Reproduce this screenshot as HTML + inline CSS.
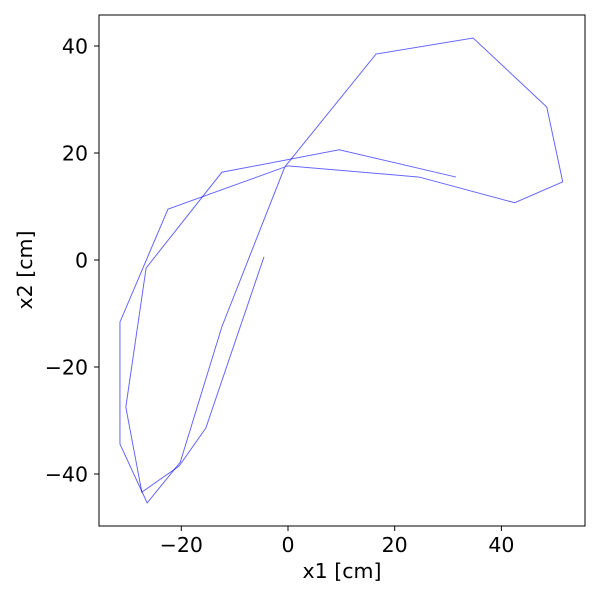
<!DOCTYPE html>
<html><head><meta charset="utf-8"><style>
body{margin:0;background:#fff}
svg text{font-family:"DejaVu Sans","Liberation Sans",sans-serif;font-size:20.5px;fill:#000}
</style></head><body>
<svg id="chart" width="600" height="600">
<rect x="99" y="15" width="486" height="511" fill="#fff" stroke="#000" stroke-width="1"/>
<g id="ticks"></g>
<g id="lines"></g>
<text x="342" y="578" text-anchor="middle">x1 [cm]</text>
<text transform="translate(32,270) rotate(-90)" text-anchor="middle">x2 [cm]</text>
</svg>
<script>
const xTicks=[-20,0,20,40];
const yTicks=[-40,-20,0,20,40];
const pathAx=[-4.5,-15.4,-20.4,-27.4,-30.4,-26.6,-12.4,9.6,31.5];
const pathAy=[0.6,-31.4,-38.5,-43.4,-27.5,-1.5,16.4,20.6,15.5];
const pathBx=[-31.5,-22.5,0,24.6,42.5,51.5,48.5,34.7,16.5,-0.6,-12.4,-20.2,-26.4,-31.5,-31.5];
const pathBy=[-11.6,9.5,17.6,15.5,10.7,14.6,28.6,41.5,38.5,17.4,-12.5,-37.8,-45.4,-34.4,-11.6];
const sx=v=>288+v*5.335;
const sy=v=>260-v*5.35;
const NS="http://www.w3.org/2000/svg";
const tg=document.getElementById('ticks');
xTicks.forEach(t=>{
  const l=document.createElementNS(NS,'line');
  l.setAttribute('x1',sx(t));l.setAttribute('x2',sx(t));l.setAttribute('y1',526);l.setAttribute('y2',531);l.setAttribute('stroke','#000');
  
  
  tg.appendChild(l);
  const tx=document.createElementNS(NS,'text');
  tx.setAttribute('x',sx(t));tx.setAttribute('y',552);tx.setAttribute('text-anchor','middle');
  tx.textContent=t<0?'\u2212'+(-t):String(t);
  
  
  tg.appendChild(tx);
});
yTicks.forEach(t=>{
  const l=document.createElementNS(NS,'line');
  l.setAttribute('x1',94);l.setAttribute('x2',99);l.setAttribute('y1',sy(t));l.setAttribute('y2',sy(t));l.setAttribute('stroke','#000');
  
  
  tg.appendChild(l);
  const tx=document.createElementNS(NS,'text');
  tx.setAttribute('x',88);tx.setAttribute('y',sy(t)+7.5);tx.setAttribute('text-anchor','end');
  tx.textContent=t<0?'\u2212'+(-t):String(t);
  
  
  tg.appendChild(tx);
});
const lg=document.getElementById('lines');
function draw(xs,ys,name){
  const p=document.createElementNS(NS,'polyline');
  p.setAttribute('points',xs.map((x,i)=>sx(x)+','+sy(ys[i])).join(' '));
  p.setAttribute('fill','none');p.setAttribute('stroke','#0000ff');p.setAttribute('stroke-opacity','0.6');p.setAttribute('stroke-width','1');
  
  
  lg.appendChild(p);
}
draw(pathAx,pathAy,'trajectory-line-a');
draw(pathBx,pathBy,'trajectory-line-b');
</script>
</body></html>
